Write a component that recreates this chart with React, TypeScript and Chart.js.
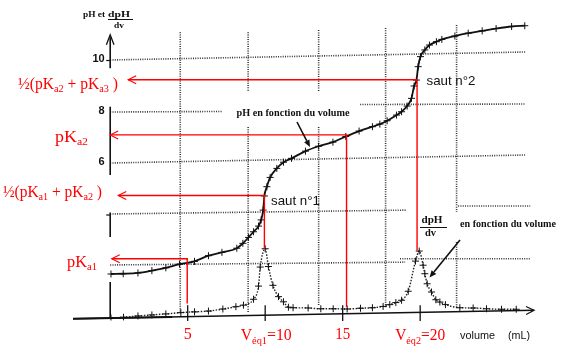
import React, { useEffect, useRef } from "react";
import { Chart, registerables } from "chart.js";

Chart.register(...registerables);

// pH curve: volume (mL) and pH
const phVolumes = [0.05, 0.84, 1.79, 2.69, 3.59, 4.47, 5.44, 6.34, 7.21, 8.17, 8.56, 8.92, 9.25, 9.57, 9.74, 9.87, 9.95, 10.11, 10.32, 10.75, 11.18, 11.7, 12.6, 13.45, 14.37, 15.2, 16.06, 16.92, 17.4, 17.87, 18.47, 18.8, 19.16, 19.44, 19.61, 19.76, 19.87, 20.02, 20.3, 20.6, 21.05, 21.4, 22.24, 23.1, 24.0, 24.9, 25.9, 26.75];
const phValues = [1.71, 1.72, 1.75, 1.84, 1.95, 2.09, 2.2, 2.42, 2.55, 2.71, 2.9, 3.13, 3.35, 3.57, 3.81, 4.19, 4.74, 5.1, 5.46, 5.81, 6.05, 6.2, 6.48, 6.67, 6.83, 7.05, 7.26, 7.43, 7.53, 7.66, 7.88, 8.01, 8.23, 8.53, 9.01, 9.24, 9.76, 10.15, 10.41, 10.6, 10.73, 10.82, 10.95, 11.06, 11.15, 11.24, 11.32, 11.35];

// dpH/dV curve
const dphVolumes = [0.05, 0.86, 1.79, 2.69, 3.59, 4.56, 5.44, 6.34, 7.27, 8.11, 8.6, 9.25, 9.57, 9.68, 10.0, 10.21, 10.5, 10.86, 11.18, 11.5, 11.8, 12.77, 13.59, 14.39, 15.29, 16.15, 16.92, 17.61, 18.04, 18.43, 18.8, 19.23, 19.7, 19.94, 20.19, 20.3, 20.45, 20.73, 21.01, 21.27, 21.63, 22.56, 23.42, 24.28, 25.25, 26.2];
const dphValues = [0.0, 0.03, 0.08, 0.12, 0.16, 0.21, 0.24, 0.27, 0.35, 0.44, 0.5, 0.73, 1.24, 1.98, 2.69, 2.0, 1.27, 0.83, 0.63, 0.42, 0.4, 0.39, 0.36, 0.36, 0.35, 0.38, 0.4, 0.45, 0.52, 0.6, 0.69, 1.04, 2.21, 2.6, 2.05, 1.72, 1.33, 1.01, 0.71, 0.62, 0.52, 0.4, 0.39, 0.36, 0.34, 0.34];

// Dotted grid of the scanned paper: [v1, pH1, v2, pH2]
const gridSegments: [number, number, number, number][] = [
  [0, 10.02, 26.77, 10.33],
  [0, 8.0, 7.23, 8.02],
  [16.13, 8.29, 26.77, 8.31],
  [0, 6.02, 26.77, 6.33],
  [0, 4.04, 19.1, 4.19],
  [22.45, 4.35, 27.1, 4.35],
  [0, 2.06, 19.03, 2.17],
  [18.7, 2.3, 27.1, 2.3],
  [4.52, 11.1, 4.52, 0.19],
  [8.9, 11.1, 8.9, 8.78],
  [8.9, 7.42, 8.9, 0.19],
  [13.45, 11.18, 13.45, 8.78],
  [13.45, 7.42, 13.45, 0.5],
  [17.77, 11.26, 17.77, 0.39],
  [22.35, 11.38, 22.35, 4.12],
  [22.35, 2.95, 22.35, 0.43],
];

// Reference constructions (red): level, volume, arrow start volume, bottom of drop line
const refLevels = [9.25, 7.11, 4.76, 2.3];
const refVolumes = [19.8, 15.25, 9.95, 4.97];
const refStarts = [1.16, 0.0, 0.52, 0.1];
const refBottoms = [2.62, 0.43, 2.69, 0.56];

type Part = { t: string; sub?: boolean };
const refLabels: Part[][] = [
  [{ t: "½(pK" }, { t: "a2", sub: true }, { t: " + pK" }, { t: "a3", sub: true }, { t: " )" }],
  [{ t: "pK" }, { t: "a2", sub: true }],
  [{ t: "½(pK" }, { t: "a1", sub: true }, { t: " + pK" }, { t: "a2", sub: true }, { t: " )" }],
  [{ t: "pK" }, { t: "a1", sub: true }],
];

// x tick labels
const xTickValues = [5, 10, 15, 20];
const xTickLabels: Part[][] = [
  [{ t: "5" }],
  [{ t: "V" }, { t: "éq1", sub: true }, { t: "=10" }],
  [{ t: "15" }],
  [{ t: "V" }, { t: "éq2", sub: true }, { t: "=20" }],
];
const yTickValues = [10, 8, 6];
const yTickLabels = ["10", "8", "6"];

const axisSegmentsY: [number, number][] = [[0, 1.4], [3.15, 4.1], [5.55, 8.2], [9.7, 10.9]];

const SERIF = '"Liberation Serif", "Times New Roman", serif';
const SANS = '"Liberation Sans", Arial, sans-serif';

function drawRich(
  ctx: CanvasRenderingContext2D,
  parts: Part[],
  x: number,
  baseline: number,
  o: { size: number; subSize: number; subDy: number; family: string; color: string; width?: number; align?: "left" | "center"; weight?: string }
) {
  const w = parts.map((p) => {
    ctx.font = `${o.weight || "normal"} ${p.sub ? o.subSize : o.size}px ${o.family}`;
    return ctx.measureText(p.t).width;
  });
  const natural = w.reduce((a, b) => a + b, 0);
  const sx = o.width ? o.width / natural : 1;
  const total = natural * sx;
  const start = o.align === "center" ? x - total / 2 : x;
  ctx.save();
  ctx.fillStyle = o.color;
  ctx.textBaseline = "alphabetic";
  ctx.textAlign = "left";
  ctx.translate(start, baseline);
  ctx.scale(sx, 1);
  let cx = 0;
  parts.forEach((p, i) => {
    ctx.font = `${o.weight || "normal"} ${p.sub ? o.subSize : o.size}px ${o.family}`;
    ctx.fillText(p.t, cx, p.sub ? o.subDy : 0);
    cx += w[i];
  });
  ctx.restore();
}

function fitText(ctx: CanvasRenderingContext2D, text: string, x: number, baseline: number, font: string, width: number, color = "#111") {
  ctx.save();
  ctx.font = font;
  ctx.fillStyle = color;
  ctx.textAlign = "left";
  ctx.textBaseline = "alphabetic";
  const m = ctx.measureText(text).width;
  ctx.translate(x, baseline);
  ctx.scale(width / m, 1);
  ctx.fillText(text, 0, 0);
  ctx.restore();
}

function openArrow(ctx: CanvasRenderingContext2D, tx: number, ty: number, fx: number, fy: number, len: number, half: number) {
  const a = Math.atan2(ty - fy, tx - fx);
  const bx = tx - len * Math.cos(a);
  const by = ty - len * Math.sin(a);
  const nx = -Math.sin(a) * half;
  const ny = Math.cos(a) * half;
  ctx.beginPath();
  ctx.moveTo(bx + nx, by + ny);
  ctx.lineTo(tx, ty);
  ctx.lineTo(bx - nx, by - ny);
  ctx.stroke();
}

function filledArrow(ctx: CanvasRenderingContext2D, fx: number, fy: number, tx: number, ty: number, len: number, half: number) {
  const a = Math.atan2(ty - fy, tx - fx);
  const bx = tx - len * Math.cos(a);
  const by = ty - len * Math.sin(a);
  const nx = -Math.sin(a) * half;
  const ny = Math.cos(a) * half;
  ctx.beginPath();
  ctx.moveTo(fx, fy);
  ctx.lineTo(bx, by);
  ctx.stroke();
  ctx.beginPath();
  ctx.moveTo(tx, ty);
  ctx.lineTo(bx + nx, by + ny);
  ctx.lineTo(bx - nx, by - ny);
  ctx.closePath();
  ctx.fill();
}

const decor = {
  id: "decor",
  beforeDatasetsDraw(chart: any) {
    const ctx: CanvasRenderingContext2D = chart.ctx;
    const xs = chart.scales.x;
    const ys = chart.scales.y;
    const X = (v: number) => xs.getPixelForValue(v);
    const Y = (v: number) => ys.getPixelForValue(v);
    ctx.save();
    ctx.strokeStyle = "#111";
    ctx.fillStyle = "#111";
    // y axis (scanned, broken)
    ctx.lineWidth = 1.6;
    axisSegmentsY.forEach(([a, b]) => {
      ctx.beginPath();
      ctx.moveTo(X(0), Y(a));
      ctx.lineTo(X(0), Y(b));
      ctx.stroke();
    });
    ctx.lineWidth = 1.3;
    openArrow(ctx, X(0), Y(11.0), X(0), Y(10), 10, 3.8);
    // small y ticks
    ctx.lineWidth = 1.2;
    [10, 4].forEach((v) => {
      ctx.beginPath();
      ctx.moveTo(X(0) - 4, Y(v));
      ctx.lineTo(X(0), Y(v));
      ctx.stroke();
    });
    // x axis (slightly tilted in the scan)
    ctx.lineWidth = 1.6;
    ctx.beginPath();
    ctx.moveTo(X(-2.4), Y(-0.03));
    ctx.lineTo(X(27.35), Y(0.3));
    ctx.stroke();
    ctx.lineWidth = 1.2;
    openArrow(ctx, X(27.35), Y(0.3), X(20), Y(0.22), 8, 4);
    ctx.lineWidth = 2;
    ctx.beginPath();
    ctx.moveTo(X(-2.4), Y(-0.03));
    ctx.lineTo(X(4), Y(0.04));
    ctx.stroke();
    // x ticks
    ctx.lineWidth = 1.3;
    xTickValues.forEach((v) => {
      ctx.beginPath();
      ctx.moveTo(X(v), Y(0.5));
      ctx.lineTo(X(v), Y(-0.12));
      ctx.stroke();
    });
    ctx.restore();
  },
  afterDatasetsDraw(chart: any) {
    const ctx: CanvasRenderingContext2D = chart.ctx;
    const xs = chart.scales.x;
    const ys = chart.scales.y;
    const X = (v: number) => xs.getPixelForValue(v);
    const Y = (v: number) => ys.getPixelForValue(v);
    ctx.save();

    // red constructions
    ctx.strokeStyle = "#ff0000";
    ctx.lineWidth = 1.4;
    refLevels.forEach((lvl, i) => {
      ctx.beginPath();
      ctx.moveTo(X(refStarts[i]), Y(lvl));
      ctx.lineTo(X(refVolumes[i]), Y(lvl));
      ctx.lineTo(X(refVolumes[i]), Y(refBottoms[i]));
      ctx.stroke();
      ctx.lineWidth = 1.1;
      openArrow(ctx, X(refStarts[i]), Y(lvl), X(refStarts[i]) + 20, Y(lvl), 8, 4);
      ctx.lineWidth = 1.4;
    });

    // red labels on the left
    const labelPos = [
      { x: 18, y: 89, w: 100 },
      { x: 55, y: 141.5, w: 33 },
      { x: 3, y: 197, w: 99 },
      { x: 67, y: 266.5, w: 30 },
    ];
    refLabels.forEach((parts, i) => {
      drawRich(ctx, parts, labelPos[i].x, labelPos[i].y, {
        size: 16, subSize: 10.5, subDy: 3, family: SERIF, color: "#ff0000", width: labelPos[i].w,
      });
    });

    // x tick labels
    const xw = [8, 51, 15, 50];
    const xb = [339, 340, 338.5, 340];
    xTickLabels.forEach((parts, i) => {
      drawRich(ctx, parts, X(xTickValues[i]) + (i === 1 ? 1 : 0), xb[i], {
        size: 16, subSize: 10.5, subDy: 3.5, family: SERIF, color: "#ff0000", width: xw[i], align: "center",
      });
    });
    fitText(ctx, "volume", 460, 338.5, `11px ${SANS}`, 35);
    fitText(ctx, "(mL)", 508, 338.5, `11px ${SANS}`, 22);

    // y tick labels
    ctx.fillStyle = "#111";
    ctx.font = `bold 11px ${SANS}`;
    ctx.textAlign = "right";
    ctx.textBaseline = "middle";
    yTickValues.forEach((v, i) => {
      ctx.fillText(yTickLabels[i], X(0) - 5.5, Y(v) - 1.5);
    });

    // y axis title
    fitText(ctx, "pH et", 83, 17, `bold 9px ${SERIF}`, 22);
    fitText(ctx, "dpH", 108, 17, `bold 9px ${SERIF}`, 22);
    ctx.strokeStyle = "#111";
    ctx.lineWidth = 1;
    ctx.beginPath();
    ctx.moveTo(108, 19.5);
    ctx.lineTo(133, 19.5);
    ctx.stroke();
    fitText(ctx, "dv", 114, 27.5, `bold 9px ${SERIF}`, 10);

    // curve captions
    fitText(ctx, "saut n°2", 426.5, 85, `13px ${SANS}`, 49);
    fitText(ctx, "saut n°1", 271, 205, `13px ${SANS}`, 49);
    fitText(ctx, "pH en fonction du volume", 236.5, 116, `bold 10px ${SERIF}`, 113);
    fitText(ctx, "en fonction du volume", 460, 226.5, `bold 10px ${SERIF}`, 96);
    fitText(ctx, "dpH", 421.5, 222.5, `bold 10px ${SERIF}`, 21);
    ctx.beginPath();
    ctx.moveTo(420, 227.5);
    ctx.lineTo(447, 227.5);
    ctx.stroke();
    fitText(ctx, "dv", 425, 235.5, `bold 10px ${SERIF}`, 11);

    // caption arrows
    ctx.strokeStyle = "#111";
    ctx.fillStyle = "#111";
    ctx.lineWidth = 1.6;
    filledArrow(ctx, 297, 122, 310, 147, 7, 3);
    filledArrow(ctx, 460, 240, 429.5, 277.5, 7, 3);

    ctx.restore();
  },
};

export default function App() {
  const ref = useRef<HTMLCanvasElement | null>(null);
  useEffect(() => {
    if (!ref.current) return;
    const gridDatasets = gridSegments.map(([a, b, c, d]) => ({
      data: [{ x: a, y: b }, { x: c, y: d }],
      showLine: true,
      borderColor: "rgba(30,30,30,0.9)",
      borderWidth: 1.6,
      borderDash: [1, 1.3],
      pointRadius: 0,
      order: 10,
    }));
    const chart = new Chart(ref.current, {
      type: "scatter",
      data: {
        datasets: [
          ...gridDatasets,
          {
            data: phVolumes.map((v, i) => ({ x: v, y: phValues[i] })),
            showLine: true,
            borderColor: "#111",
            borderWidth: 1.8,
            pointStyle: "cross",
            pointRadius: 3.5,
            pointBorderWidth: 1,
            pointBorderColor: "#111",
            pointBackgroundColor: "#111",
            cubicInterpolationMode: "monotone",
            order: 1,
          },
          {
            data: dphVolumes.map((v, i) => ({ x: v, y: dphValues[i] })),
            showLine: true,
            borderColor: "#222",
            borderWidth: 1.4,
            borderDash: [1.5, 1.5],
            pointStyle: "cross",
            pointRadius: 3.5,
            pointBorderWidth: 1,
            pointBorderColor: "#111",
            pointBackgroundColor: "#111",
            cubicInterpolationMode: "monotone",
            order: 2,
          },
        ],
      },
      options: {
        animation: false,
        responsive: false,
        maintainAspectRatio: false,
        devicePixelRatio: 1,
        events: [],
        layout: { padding: { left: 73, right: 11, top: 18, bottom: 33.4 } },
        plugins: {
          legend: { display: false },
          tooltip: { enabled: false },
          title: { display: false },
        },
        scales: {
          x: { type: "linear", min: -2.4, max: 28.7, display: false },
          y: { type: "linear", min: -0.1, max: 11.65, display: false },
        },
      } as any,
      plugins: [decor as any],
    } as any);
    return () => chart.destroy();
  }, []);
  return (
    <div style={{ position: "fixed", left: 0, top: 0, width: 566, height: 354, background: "#fff" }}>
      <canvas ref={ref} width={566} height={354} style={{ display: "block" }} />
    </div>
  );
}
